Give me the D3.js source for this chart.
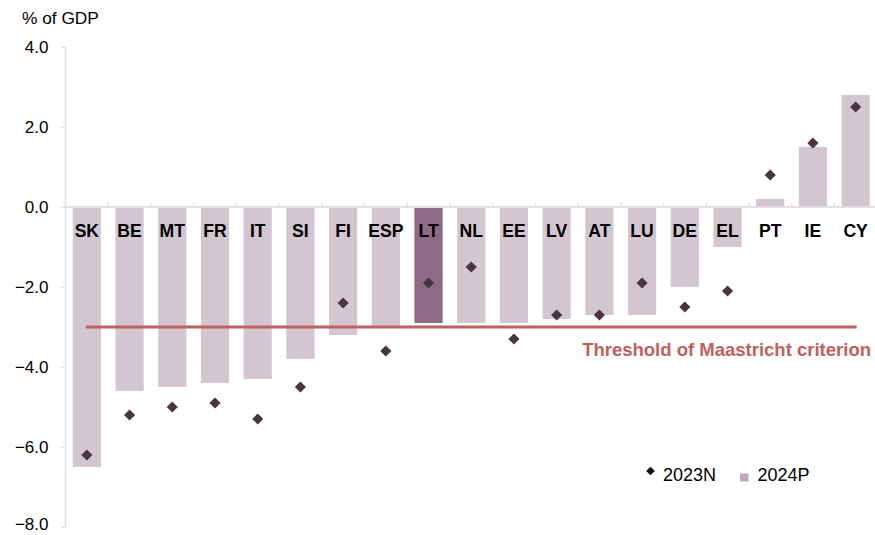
<!DOCTYPE html>
<html><head><meta charset="utf-8">
<script src="https://cdn.jsdelivr.net/npm/d3@7"></script>
<style>body{margin:0;background:#fff}svg{display:block;font-family:"Liberation Sans",Arial,sans-serif}</style>
</head><body><svg id="c" width="875" height="535"></svg>
<script>
const categories = ["SK","BE","MT","FR","IT","SI","FI","ESP","LT","NL","EE","LV","AT","LU","DE","EL","PT","IE","CY"];
const values2024P = [-6.5,-4.6,-4.5,-4.4,-4.3,-3.8,-3.2,-3.0,-2.9,-2.9,-2.9,-2.8,-2.7,-2.7,-2.0,-1.0,0.2,1.5,2.8];
const values2023N = [-6.2,-5.2,-5.0,-4.9,-5.3,-4.5,-2.4,-3.6,-1.9,-1.5,-3.3,-2.7,-2.7,-1.9,-2.5,-2.1,0.8,1.6,2.5];
const yTicks = [4,2,0,-2,-4,-6,-8];
const threshold = -3;
const highlight = "LT";
const thresholdLabel = "Threshold of Maastricht criterion";
const seriesNames = ["2023N","2024P"];

const svg = d3.select("#c");
const x = d3.scaleBand().domain(categories).range([65.5, 877]).paddingInner(0.34).paddingOuter(0.17);
const y = d3.scaleLinear().domain([-8, 4]).range([527, 47]);
const axisCol = "#e6dfe3";

// y axis
const ya = svg.append("g").attr("transform","translate(65,0)")
  .call(d3.axisLeft(y).tickValues(yTicks).tickSize(4).tickFormat(d => d3.format(".1f")(d)));
ya.select(".domain").attr("stroke",axisCol).attr("stroke-width",1.5);
ya.selectAll(".tick line").attr("stroke",axisCol).attr("stroke-width",1.5);
ya.selectAll(".tick text").attr("font-size",17).attr("fill","#000").attr("x",-16.5)
  .attr("dy", d => d === -8 ? "0.12em" : "0.3em").attr("font-family","Liberation Sans, Arial, sans-serif");

svg.append("text").attr("x",22).attr("y",24).attr("font-size",17.3).text("% of GDP");

// bars
svg.append("g").selectAll("rect").data(categories).join("rect")
  .attr("x", d => x(d))
  .attr("width", x.bandwidth())
  .attr("y", (d,i) => y(Math.max(0, values2024P[i])))
  .attr("height", (d,i) => Math.abs(y(values2024P[i]) - y(0)))
  .attr("fill", d => d === highlight ? "#8d6b84" : "#d3c6d0");

// x axis line at zero with ticks upward between categories
const step = x.step();
const x0 = x(categories[0]) - x.paddingOuter()*step;
svg.append("line").attr("x1",65).attr("x2",877).attr("y1",y(0)).attr("y2",y(0)).attr("stroke",axisCol).attr("stroke-width",2);
svg.append("g").selectAll("line").data(d3.range(categories.length+1)).join("line")
  .attr("x1", i => x0 + i*step).attr("x2", i => x0 + i*step)
  .attr("y1", y(0)).attr("y2", y(0)-4).attr("stroke",axisCol).attr("stroke-width",1.5);

// category labels
svg.append("g").selectAll("text").data(categories).join("text")
  .attr("x", d => x(d) + x.bandwidth()/2)
  .attr("y", y(0) + 29.5)
  .attr("text-anchor","middle").attr("font-size",17.6).attr("font-weight","bold").attr("fill","#000")
  .text(d => d);

// threshold
svg.append("line")
  .attr("x1", x(categories[0]) + x.bandwidth()/2 - 1)
  .attr("x2", x(categories[categories.length-1]) + x.bandwidth()/2 + 1)
  .attr("y1", y(threshold)).attr("y2", y(threshold))
  .attr("stroke","#c0605f").attr("stroke-width",3);
svg.append("text").attr("x",871).attr("y",y(threshold)+28.5).attr("text-anchor","end")
  .attr("font-size",18.5).attr("font-weight","bold").attr("fill","#c0605f").text(thresholdLabel);

// diamonds
const diamond = d3.symbol().type(d3.symbolSquare).size(62);
svg.append("g").selectAll("path").data(categories).join("path")
  .attr("d", diamond)
  .attr("transform", (d,i) => `translate(${x(d)+x.bandwidth()/2},${y(values2023N[i])}) rotate(45)`)
  .attr("fill","#47363f");

// legend
const lg = svg.append("g");
lg.append("path").attr("d", d3.symbol().type(d3.symbolSquare).size(38)).attr("transform","translate(650.5,471) rotate(45)").attr("fill","#111");
lg.append("text").attr("x",663).attr("y",481).attr("font-size",18).text(seriesNames[0]);
lg.append("rect").attr("x",740).attr("y",473.5).attr("width",8.5).attr("height",8).attr("fill","#bfaab9");
lg.append("text").attr("x",757.5).attr("y",481).attr("font-size",18).text(seriesNames[1]);
</script></body></html>
